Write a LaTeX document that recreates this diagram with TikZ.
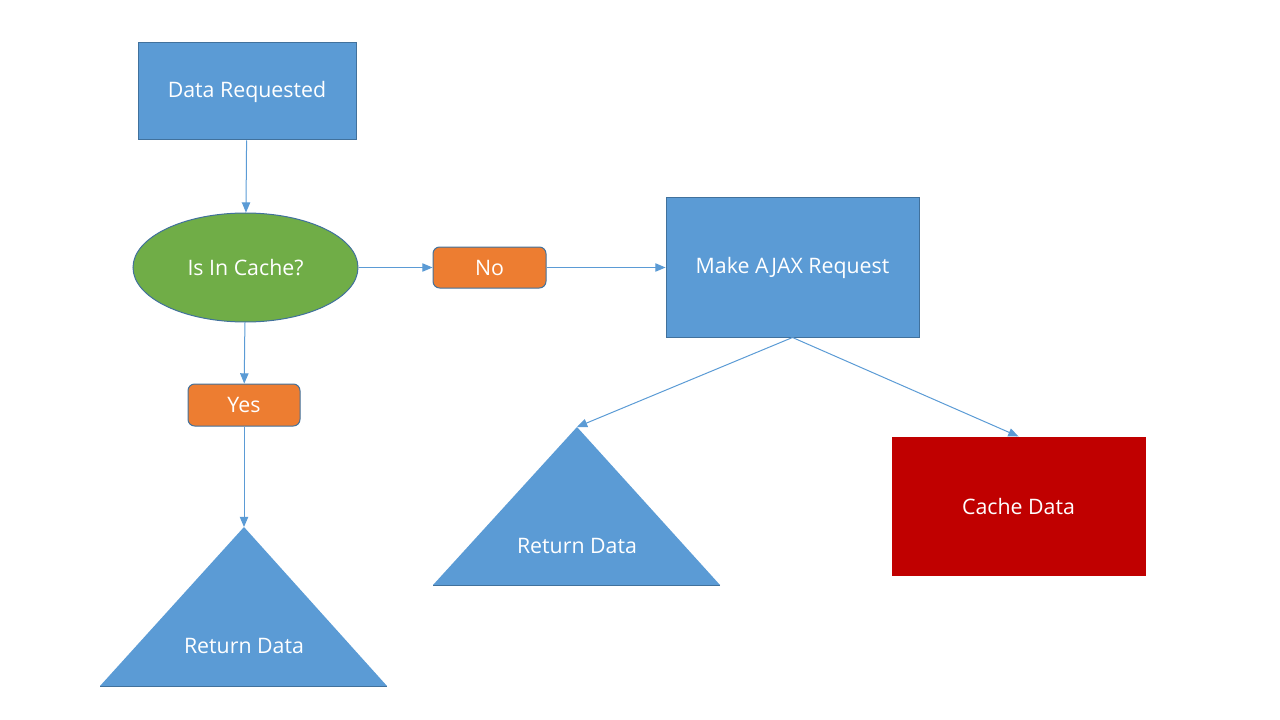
\documentclass[tikz,border=0pt]{standalone}
\usepackage{fontspec}
\setmainfont{Open Sans}
\usetikzlibrary{arrows}
\usetikzlibrary{shapes.geometric}
\definecolor{boxblue}{HTML}{5B9BD5}
\definecolor{edgeblue}{HTML}{41719C}
\definecolor{okgreen}{HTML}{70AD47}
\definecolor{tagorange}{HTML}{ED7D31}
\definecolor{cachered}{HTML}{C00000}
\tikzset{
  txt/.style={text=white, inner sep=0pt, font=\fontsize{16}{19}\selectfont},
  box/.style={txt, draw=edgeblue, line width=.75pt, fill=boxblue},
  choice/.style={txt, ellipse, draw=edgeblue, line width=.75pt, fill=okgreen, minimum width=168.75pt, minimum height=81.75pt},
  tag/.style={txt, rounded corners=5pt, draw=edgeblue, line width=.75pt, fill=tagorange},
  link/.style={boxblue, line width=.75pt, ->, >=triangle 45}
}

\begin{document}
\begin{tikzpicture}[x=.75pt, y=-.75pt]
\useasboundingbox (0,0) rectangle (1280,720);
% boxes
\node[box, minimum width=163.5pt, minimum height=72.75pt] (dreq) at (247,91.5) {Data Requested};
\node[choice] (incache) at (245.5,267.5) {Is In Cache?};
\node[tag, minimum width=84.75pt, minimum height=30.75pt] (no) at (489.5,267.5) {No};
\node[tag, minimum width=84pt, minimum height=31.5pt] (yes) at (244,405) {Yes};
\node[box, minimum width=189.75pt, minimum height=104.25pt] (ajax) at (792.5,267.5) {Make AJAX Request};
\node[box, draw=cachered, fill=cachered, minimum width=189.75pt, minimum height=103.5pt] (cdata) at (1018.5,506) {Cache Data};
% triangles
\fill[boxblue] (100,686) -- (244,527) -- (387,686) -- cycle;
\draw[edgeblue, line width=.75pt] (100,686) -- (387,686);
\coordinate (ret1) at (244,527);
\node[txt] (ret1txt) at (244,646) {Return Data};
\fill[boxblue] (433,585) -- (577,427) -- (720,585) -- cycle;
\draw[edgeblue, line width=.75pt] (433,585) -- (720,585);
\coordinate (ret2) at (577,427);
\node[txt] (ret2txt) at (577,546) {Return Data};
% links
\draw[link] (dreq) -- (incache);
\draw[link] (incache) -- (no);
\draw[link] (no) -- (ajax);
\draw[link] (incache) -- (yes);
\draw[link] (yes) -- (ret1);
\draw[link] (ajax.south) -- (ret2);
\draw[link] (ajax.south) -- (cdata.north);
\end{tikzpicture}
\end{document}
